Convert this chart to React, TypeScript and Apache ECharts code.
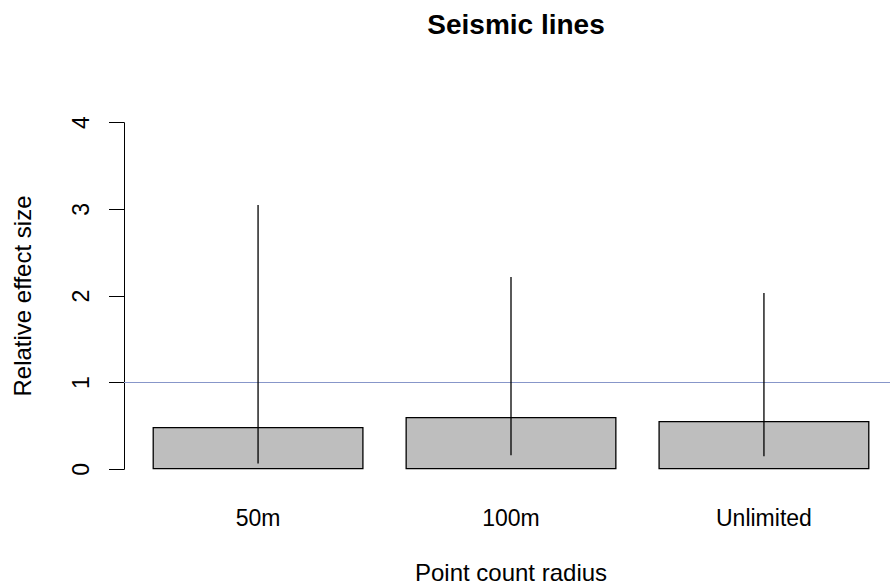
import React, { useEffect, useRef } from "react";
import * as echarts from "echarts";

const categories = ["50m", "100m", "Unlimited"];
const categoryPositions = [0.7, 1.9, 3.1];
const effectSizes = [0.488, 0.604, 0.558];
const lowerBounds = [0.066, 0.162, 0.15];
const upperBounds = [3.05, 2.22, 2.036];
const referenceLevel = 1;
const yTicks = [0, 1, 2, 3, 4];

const FONT = "'Liberation Sans', Arial, Helvetica, sans-serif";
const REF_COLOR = "#8796C9";

export default function App() {
  const ref = useRef<HTMLDivElement>(null);
  useEffect(() => {
    if (!ref.current) return;
    const chart = echarts.init(ref.current, undefined, { renderer: "svg" });
    const barData = categoryPositions.map((x, i) => [x, effectSizes[i]]);
    const errData = categoryPositions.map((x, i) => [x, lowerBounds[i], upperBounds[i]]);
    chart.setOption({
      animation: false,
      backgroundColor: "#ffffff",
      title: {
        text: "Seismic lines",
        left: 511,
        top: 5,
        textAlign: "center",
        textStyle: { fontFamily: FONT, fontSize: 28, fontWeight: "bold", color: "#000" },
      },
      grid: {
        left: 124,
        top: 122.7,
        right: -8,
        bottom: 118.7,
        outerBoundsMode: "none",
        containLabel: false,
      },
      xAxis: {
        type: "value",
        min: 0.064,
        max: 3.736,
        name: "Point count radius",
        nameLocation: "middle",
        nameGap: 91,
        nameTextStyle: { fontFamily: FONT, fontSize: 24, color: "#000" },
        axisLine: { show: false },
        axisTick: { show: false },
        splitLine: { show: false },
        axisLabel: {
          customValues: categoryPositions,
          formatter: (v: number) => {
            const idx = categoryPositions.findIndex((p) => Math.abs(p - v) < 1e-6);
            return idx >= 0 ? categories[idx] : "";
          },
          margin: 37,
          fontFamily: FONT,
          fontSize: 23,
          color: "#000",
        },
      },
      yAxis: {
        type: "value",
        min: yTicks[0],
        max: yTicks[yTicks.length - 1],
        interval: 1,
        name: "Relative effect size",
        nameLocation: "middle",
        nameRotate: 90,
        nameGap: 90,
        nameTextStyle: { fontFamily: FONT, fontSize: 24, color: "#000" },
        axisLine: { show: true, lineStyle: { color: "#000", width: 1 } },
        axisTick: { show: true, length: 15, lineStyle: { color: "#000", width: 1 } },
        splitLine: { show: false },
        axisLabel: {
          rotate: 90,
          margin: 32,
          fontFamily: FONT,
          fontSize: 23,
          color: "#000",
        },
      },
      series: [
        {
          type: "bar",
          data: barData,
          barWidth: 211,
          itemStyle: { color: "#BEBEBE", borderColor: "#000", borderWidth: 1.3 },
          markLine: {
            silent: true,
            symbol: "none",
            label: { show: false },
            lineStyle: { color: REF_COLOR, width: 1.2, type: "solid", opacity: 1 },
            emphasis: { disabled: true },
            data: [
              {
                yAxis: referenceLevel,
                lineStyle: { color: REF_COLOR, width: 1.2, type: "solid", opacity: 1 },
              },
            ],
          },
          z: 2,
        },
        {
          type: "custom",
          data: errData,
          z: 5,
          renderItem: (params: any, api: any) => {
            const p1 = api.coord([api.value(0), api.value(1)]);
            const p2 = api.coord([api.value(0), api.value(2)]);
            return {
              type: "line",
              shape: { x1: p1[0], y1: p1[1], x2: p2[0], y2: p2[1] },
              style: { stroke: "#000", lineWidth: 1.3 },
            };
          },
        },
      ],
    });
    return () => chart.dispose();
  }, []);
  return <div ref={ref} style={{ width: 890, height: 588, position: "absolute", left: 0, top: 0 }} />;
}
